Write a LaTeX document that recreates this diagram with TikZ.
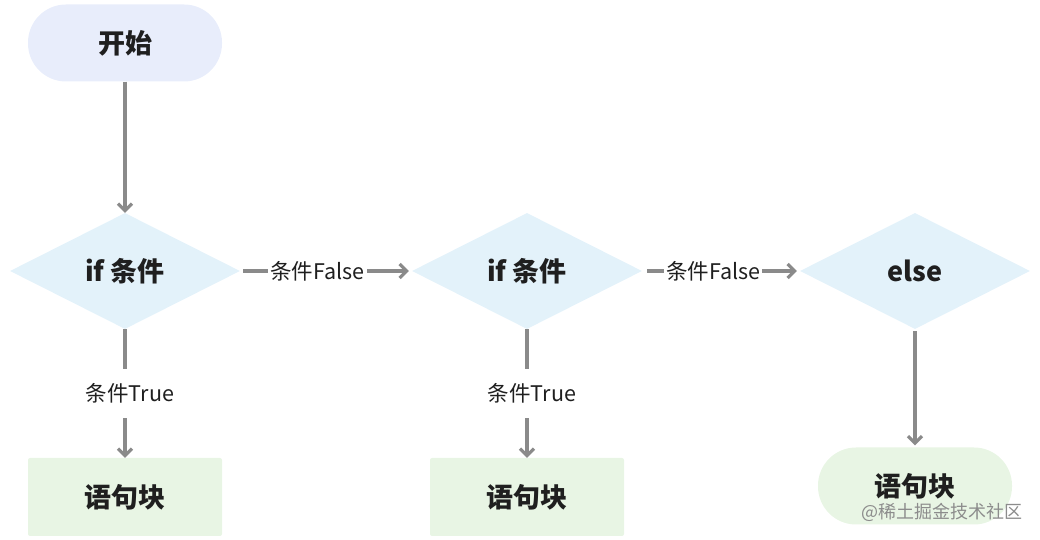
\documentclass[tikz,border=0pt]{standalone}
\usepackage{fontspec}
\setmainfont{Noto Sans CJK SC}
\usetikzlibrary{shapes.geometric,arrows.meta}
\definecolor{startfill}{HTML}{E8EDFB}
\definecolor{condfill}{HTML}{E3F2FA}
\definecolor{blockfill}{HTML}{E8F5E4}
\definecolor{linegray}{HTML}{8A8A8A}
\definecolor{txt}{HTML}{1F1F1F}
\tikzset{
  pill/.style={rectangle, rounded corners=38pt, minimum width=194pt, minimum height=77pt, inner sep=0pt, font=\fontsize{27}{30}\selectfont\bfseries, text=txt},
  startbox/.style={pill, fill=startfill},
  endpill/.style={pill, fill=blockfill},
  cond/.style={diamond, aspect=2, minimum width=230pt, minimum height=116pt, inner sep=0pt, fill=condfill, font=\fontsize{27}{30}\selectfont\bfseries, text=txt},
  block/.style={rectangle, rounded corners=2pt, minimum width=194pt, minimum height=78pt, inner sep=0pt, fill=blockfill, font=\fontsize{27}{30}\selectfont\bfseries, text=txt},
  flow/.style={draw=linegray, line width=3.2pt, -{Straight Barb[length=7pt,width=14pt,line width=3.2pt]}},
  hlbl/.style={fill=white, inner xsep=2pt, inner ysep=2pt, font=\fontsize{21.5}{24}\selectfont, text=txt},
  vlbl/.style={fill=white, inner xsep=2pt, inner ysep=15pt, font=\fontsize{21.5}{24}\selectfont, text=txt},
  wm/.style={font=\fontsize{18}{20}\selectfont, text=black!45, inner sep=0pt}
}
\begin{document}
\begin{tikzpicture}[x=1pt,y=1pt]
\useasboundingbox (0,0) rectangle (1040,540);
\node[startbox] (start) at (125,497) {开始};
\node[cond] (c1) at (125,269) {if 条件};
\node[cond] (c2) at (527,269) {if 条件};
\node[cond] (c3) at (915,269) {else};
\node[block] (b1) at (125,43) {语句块};
\node[block] (b2) at (527,43) {语句块};
\node[endpill] (b3) at (915,54) {语句块};
\node[wm] (wmark) at (942,28) {@稀土掘金技术社区};
\draw[flow] (start) -- (c1);
\draw[flow, shorten <=3pt, shorten >=3pt] (c1.east) -- node[hlbl, pos=0.45] {条件False} (c2.west);
\draw[flow, shorten <=5pt, shorten >=3pt] (c2.east) -- node[hlbl, pos=0.45] {条件False} (c3.west);
\draw[flow] (c1.south) -- node[vlbl, xshift=5pt] {条件True} (b1.north);
\draw[flow] (c2.south) -- node[vlbl, xshift=5pt] {条件True} (b2.north);
\draw[flow, shorten <=2pt, shorten >=2pt] (c3.south) -- (b3.north);
\end{tikzpicture}
\end{document}
